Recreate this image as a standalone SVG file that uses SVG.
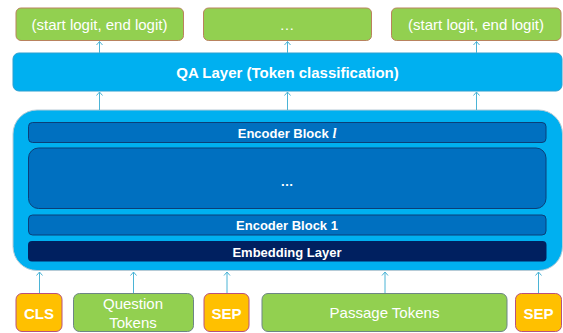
<svg xmlns="http://www.w3.org/2000/svg" width="563" height="333" viewBox="0 0 563 333">
<defs>
<style>
.out{fill:#92d050;stroke:#b9825e;stroke-width:1}
.tok{fill:#92d050;stroke:#6d8585;stroke-width:1}
.sp{fill:#ffc000;stroke:#b8507e;stroke-width:1}
.lt{fill:#00b0f0}
.enc{fill:#0070c0;stroke:#0b3f78;stroke-width:1}
.emb{fill:#002060}
.w{fill:#ffffff;font-family:"Liberation Sans",Arial,sans-serif;text-anchor:middle}
.b{font-weight:bold}
.conn line{stroke:#4bb4d6;stroke-width:1}
.conn path{fill:none;stroke:#4bb4d6;stroke-width:1}
</style>
</defs>
<rect width="563" height="333" fill="#ffffff"/>

<g id="out1"><rect class="out" x="16" y="8" width="167.5" height="32.5" rx="5"/><text class="w" x="99.5" y="30" font-size="15">(start logit, end logit)</text></g>
<g id="out2"><rect class="out" x="203.5" y="8" width="168" height="32.5" rx="5"/><text class="w" x="287" y="30" font-size="15">…</text></g>
<g id="out3"><rect class="out" x="391.5" y="8" width="169.5" height="32.5" rx="5"/><text class="w" x="476" y="30" font-size="15">(start logit, end logit)</text></g>

<g id="qa"><rect class="lt" x="13" y="53" width="549" height="38" rx="6" stroke="#2a9fd0" stroke-width="1"/><text class="w b" x="287.5" y="77.5" font-size="15">QA Layer (Token classification)</text></g>

<g id="encoder"><rect class="lt" x="13" y="110" width="549.5" height="160.5" rx="24" stroke="#b6cbd6" stroke-width="1"/></g>
<g id="blockL"><rect class="enc" x="28.5" y="122.5" width="517.5" height="20" rx="4"/><text class="w b" x="287" y="137.5" font-size="13">Encoder Block <tspan font-family="'Liberation Serif',serif" font-style="italic" font-size="14">l</tspan></text></g>
<g id="dots"><rect class="enc" x="28.5" y="148" width="517.5" height="60.5" rx="10"/><text class="w b" x="287" y="186" font-size="13">…</text></g>
<g id="block1"><rect class="enc" x="28.5" y="215" width="517.5" height="20" rx="4"/><text class="w b" x="287" y="230" font-size="13">Encoder Block 1</text></g>
<g id="embedding"><rect class="emb" x="28" y="241" width="518.5" height="20.5" rx="4"/><text class="w b" x="287" y="256.5" font-size="13">Embedding Layer</text></g>

<g id="cls"><rect class="sp" x="16" y="293.5" width="46" height="38" rx="6"/><text class="w b" x="39" y="318.5" font-size="15">CLS</text></g>
<g id="question"><rect class="tok" x="73.5" y="293.5" width="120" height="38" rx="6"/><text class="w" x="133" y="309" font-size="15">Question</text><text class="w" x="133" y="327.5" font-size="15">Tokens</text></g>
<g id="sep1"><rect class="sp" x="204" y="293.5" width="45" height="38" rx="6"/><text class="w b" x="226.5" y="318.5" font-size="15">SEP</text></g>
<g id="passage"><rect class="tok" x="262" y="293.5" width="245" height="38" rx="6"/><text class="w" x="384.5" y="318" font-size="15">Passage Tokens</text></g>
<g id="sep2"><rect class="sp" x="515.5" y="293.5" width="46" height="38" rx="6"/><text class="w b" x="538.5" y="318.5" font-size="15">SEP</text></g>

<g id="connectors" class="conn">
<line x1="99.5" y1="53" x2="99.5" y2="41.5"/><path d="M96.5 45 L99.5 41.5 L102.5 45"/>
<line x1="287.5" y1="53" x2="287.5" y2="41.5"/><path d="M284.5 45 L287.5 41.5 L290.5 45"/>
<line x1="476.5" y1="53" x2="476.5" y2="41.5"/><path d="M473.5 45 L476.5 41.5 L479.5 45"/>
<line x1="99.5" y1="110" x2="99.5" y2="92"/><path d="M96.5 95.5 L99.5 92 L102.5 95.5"/>
<line x1="287.5" y1="110" x2="287.5" y2="92"/><path d="M284.5 95.5 L287.5 92 L290.5 95.5"/>
<line x1="476.5" y1="110" x2="476.5" y2="92"/><path d="M473.5 95.5 L476.5 92 L479.5 95.5"/>
<line x1="39.5" y1="293" x2="39.5" y2="272"/><path d="M36.5 275.5 L39.5 272 L42.5 275.5"/>
<line x1="133.5" y1="293" x2="133.5" y2="272"/><path d="M130.5 275.5 L133.5 272 L136.5 275.5"/>
<line x1="227" y1="293" x2="227" y2="272"/><path d="M224 275.5 L227 272 L230 275.5"/>
<line x1="385" y1="293" x2="385" y2="272"/><path d="M382 275.5 L385 272 L388 275.5"/>
<line x1="538.5" y1="293" x2="538.5" y2="272"/><path d="M535.5 275.5 L538.5 272 L541.5 275.5"/>
</g>
</svg>
